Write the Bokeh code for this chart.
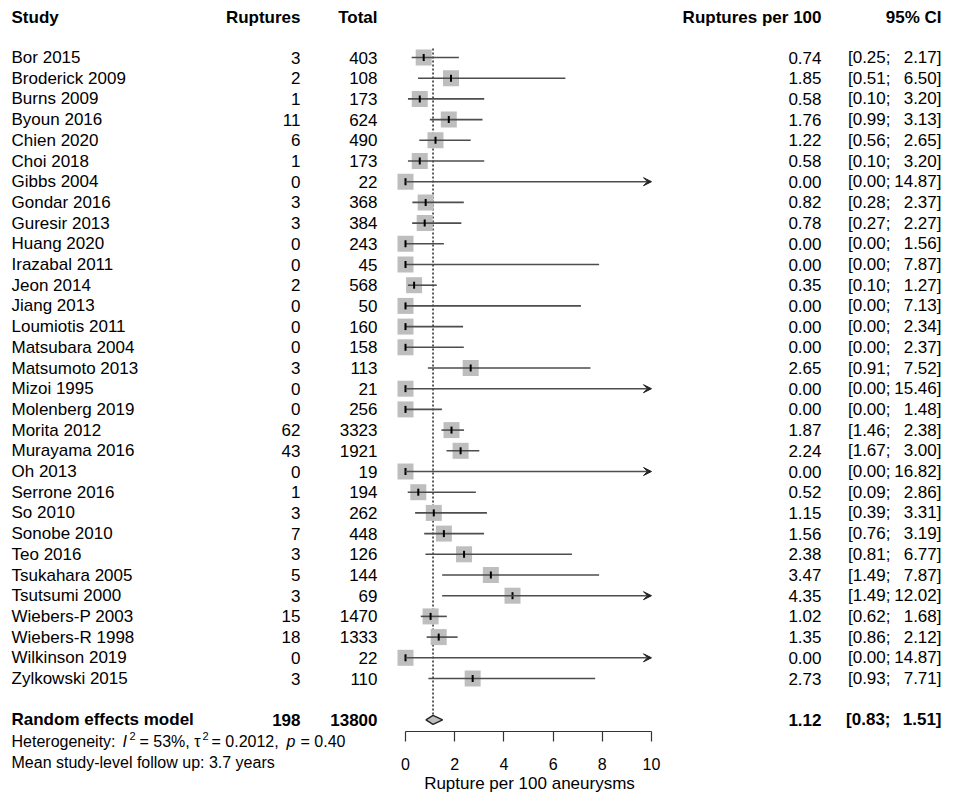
from bokeh.plotting import figure
from bokeh.layouts import column, row
from bokeh.models import ColumnDataSource, Range1d, FixedTicker, Arrow, VeeHead
from bokeh.core.properties import value
from bokeh.embed import file_html
from bokeh.resources import INLINE

# ---------------- data ----------------
studies = ["Bor 2015", "Broderick 2009", "Burns 2009", "Byoun 2016", "Chien 2020",
           "Choi 2018", "Gibbs 2004", "Gondar 2016", "Guresir 2013", "Huang 2020",
           "Irazabal 2011", "Jeon 2014", "Jiang 2013", "Loumiotis 2011", "Matsubara 2004",
           "Matsumoto 2013", "Mizoi 1995", "Molenberg 2019", "Morita 2012", "Murayama 2016",
           "Oh 2013", "Serrone 2016", "So 2010", "Sonobe 2010", "Teo 2016",
           "Tsukahara 2005", "Tsutsumi 2000", "Wiebers-P 2003", "Wiebers-R 1998",
           "Wilkinson 2019", "Zylkowski 2015"]
ruptures = [3, 2, 1, 11, 6, 1, 0, 3, 3, 0, 0, 2, 0, 0, 0, 3, 0, 0, 62, 43,
            0, 1, 3, 7, 3, 5, 3, 15, 18, 0, 3]
totals = [403, 108, 173, 624, 490, 173, 22, 368, 384, 243, 45, 568, 50, 160, 158,
          113, 21, 256, 3323, 1921, 19, 194, 262, 448, 126, 144, 69, 1470, 1333, 22, 110]
rates = [0.74, 1.85, 0.58, 1.76, 1.22, 0.58, 0.00, 0.82, 0.78, 0.00, 0.00, 0.35, 0.00,
         0.00, 0.00, 2.65, 0.00, 0.00, 1.87, 2.24, 0.00, 0.52, 1.15, 1.56, 2.38, 3.47,
         4.35, 1.02, 1.35, 0.00, 2.73]
lower = [0.25, 0.51, 0.10, 0.99, 0.56, 0.10, 0.00, 0.28, 0.27, 0.00, 0.00, 0.10, 0.00,
         0.00, 0.00, 0.91, 0.00, 0.00, 1.46, 1.67, 0.00, 0.09, 0.39, 0.76, 0.81, 1.49,
         1.49, 0.62, 0.86, 0.00, 0.93]
upper = [2.17, 6.50, 3.20, 3.13, 2.65, 3.20, 14.87, 2.37, 2.27, 1.56, 7.87, 1.27, 7.13,
         2.34, 2.37, 7.52, 15.46, 1.48, 2.38, 3.00, 16.82, 2.86, 3.31, 3.19, 6.77, 7.87,
         12.02, 1.68, 2.12, 14.87, 7.71]
re_ruptures = 198
re_total = 13800
re_est, re_lo, re_hi = 1.12, 0.83, 1.51
tick_values = [0, 2, 4, 6, 8, 10]
x_limit = 10
headers = ["Study", "Ruptures", "Total", "Ruptures per 100", "95% CI"]
het_pieces = ["Heterogeneity:", "I", "2", "= 53%, \u03c4", "2", "= 0.2012,", "p", "= 0.40"]
followup_text = "Mean study-level follow up: 3.7 years"
axis_title = "Rupture per 100 aneurysms"

# ---------------- layout helpers (pixel geometry of the page) ----------------
FONT = "Liberation Sans"
X0_PX, PX_PER_UNIT = 405.0, 24.6
ROW0_PX, ROW_PX = 57.0, 20.7


def xd(px):
    return (px - X0_PX) / PX_PER_UNIT


def yd(py):
    return (py - ROW0_PX) / ROW_PX


COL_STUDY, COL_RUPT, COL_TOTAL, COL_RATE, COL_CI_L, COL_CI_R = 11, 300, 377, 821, 890, 941
FS = "17px"
GREY_LINE = "#4d4d4d"
BOX = "#bebebe"
AXIS_Y = 730       # pixel row of the axis line
BOTTOM = 796
SPLIT_X = 395      # left edge of axis strip
AXIS_RIGHT = 663   # right edge of axis strip

n = len(studies)
rows = list(range(n))
re_row = n + 1


def bare(fig):
    fig.outline_line_color = None
    fig.grid.visible = False
    fig.background_fill_color = "white"
    fig.border_fill_color = "white"
    return fig


# ---------- main panel ----------
p = bare(figure(frame_width=950, frame_height=AXIS_Y,
                x_range=Range1d(xd(0), xd(950)), y_range=Range1d(yd(AXIS_Y), yd(0)),
                output_backend="svg", toolbar_location=None,
                x_axis_location=None, y_axis_location=None,
                min_border_left=0, min_border_right=0, min_border_top=0, min_border_bottom=0))

src = ColumnDataSource(dict(
    y=rows,
    study=studies,
    rupt=[str(v) for v in ruptures],
    tot=[str(v) for v in totals],
    est=rates,
    lo=lower,
    rate_txt=["%.2f" % v for v in rates],
    ci_l=["[%.2f;" % v for v in lower],
    ci_r=["%.2f]" % v for v in upper],
))

# dotted line at pooled estimate
p.segment(x0=[re_est], y0=[yd(48)], x1=[re_est], y1=[yd(714)],
          line_color="#333333", line_width=1.6, line_dash="2 2")

# boxes
p.scatter(x="est", y="y", source=src, marker="square", size=16,
          fill_color=BOX, line_color=None)

# CI lines
idx_in = [i for i in range(n) if upper[i] <= x_limit]
idx_out = [i for i in range(n) if upper[i] > x_limit]
src_in = ColumnDataSource(dict(y=[rows[i] for i in idx_in], lo=[lower[i] for i in idx_in],
                               hi=[upper[i] for i in idx_in]))
p.segment(x0="lo", y0="y", x1="hi", y1="y", source=src_in,
          line_color=GREY_LINE, line_width=1.6)
src_out = ColumnDataSource(dict(y=[rows[i] for i in idx_out], lo=[lower[i] for i in idx_out],
                                hi=[x_limit for i in idx_out]))
p.add_layout(Arrow(x_start="lo", y_start="y", x_end="hi", y_end="y", source=src_out,
                   line_color=GREY_LINE, line_width=1.6,
                   end=VeeHead(size=8, fill_color="#222222", line_color="#222222", line_width=1)))

# estimate tick marks
p.scatter(x="est", y="y", source=src, marker="dash", angle=1.5708, size=7,
          line_color="black", line_width=2)

# pooled diamond
dh = 4.5 / ROW_PX
p.patch(x=[re_lo, re_est, re_hi, re_est], y=[re_row, re_row - dh, re_row, re_row + dh],
        fill_color=BOX, line_color="#222222", line_width=1.3)


def col_text(x, field, align):
    p.text(x=xd(x), y="y", text=field, source=src, text_align=align, text_baseline="middle",
           text_font=value(FONT), text_font_size=value(FS), text_color="black")


col_text(COL_STUDY, "study", "left")
col_text(COL_RUPT, "rupt", "right")
col_text(COL_TOTAL, "tot", "right")
col_text(COL_RATE, "rate_txt", "right")
col_text(COL_CI_L, "ci_l", "right")
col_text(COL_CI_R, "ci_r", "right")

hdr_x = [COL_STUDY, COL_RUPT, COL_TOTAL, COL_RATE, COL_CI_R]
hdr_al = ["left", "right", "right", "right", "right"]
p.text(x=[xd(v) for v in hdr_x], y=[yd(17)] * 5, text=headers, text_align=hdr_al,
       text_baseline="middle", text_font=value(FONT), text_font_size=value(FS),
       text_font_style="bold", text_color="black")

re_texts = ["Random effects model", str(re_ruptures), str(re_total), "%.2f" % re_est,
            "[%.2f;" % re_lo, "%.2f]" % re_hi]
re_x = [COL_STUDY, COL_RUPT, COL_TOTAL, COL_RATE, COL_CI_L, COL_CI_R]
re_al = ["left", "right", "right", "right", "right", "right"]
p.text(x=[xd(v) for v in re_x], y=[re_row] * 6, text=re_texts, text_align=re_al,
       text_baseline="middle", text_font=value(FONT), text_font_size=value(FS),
       text_font_style="bold", text_color="black")

# ---------- footer text panel ----------
pb = bare(figure(frame_width=SPLIT_X, frame_height=BOTTOM - AXIS_Y,
                 x_range=Range1d(xd(0), xd(SPLIT_X)), y_range=Range1d(yd(BOTTOM), yd(AXIS_Y)),
                 output_backend="svg", toolbar_location=None,
                 x_axis_location=None, y_axis_location=None,
                 min_border_left=0, min_border_right=0, min_border_top=0, min_border_bottom=0))
het_x = [11, 122, 129, 139, 202, 211, 286, 300]
het_style = ["normal", "italic", "normal", "normal", "normal", "normal", "italic", "normal"]
het_size = ["16px", "16px", "11px", "16px", "11px", "16px", "16px", "16px"]
het_y = [741, 741, 735, 741, 735, 741, 741, 741]
pb.text(x=[xd(v) for v in het_x], y=[yd(v) for v in het_y], text=het_pieces,
        text_align="left", text_baseline="middle", text_font=value(FONT),
        text_font_size=het_size, text_font_style=het_style, text_color="black")
pb.text(x=[xd(11)], y=[yd(762)], text=[followup_text], text_align="left",
        text_baseline="middle", text_font=value(FONT), text_font_size=value("16px"),
        text_color="black")

# ---------- axis strip ----------
pc = bare(figure(frame_width=AXIS_RIGHT - SPLIT_X, frame_height=1,
                 x_range=Range1d(xd(SPLIT_X), xd(AXIS_RIGHT)), y_range=Range1d(0, 1),
                 output_backend="svg", toolbar_location=None, y_axis_location=None,
                 min_border_left=0, min_border_right=0, min_border_top=0,
                 min_border_bottom=BOTTOM - AXIS_Y - 1))
ax = pc.xaxis[0]
ax.bounds = (tick_values[0], tick_values[-1])
ax.ticker = FixedTicker(ticks=tick_values)
ax.major_tick_out = 10
ax.major_tick_in = 0
ax.minor_tick_out = 0
ax.minor_tick_in = 0
ax.axis_line_color = "#333333"
ax.major_tick_line_color = "#333333"
ax.axis_line_width = 1.2
ax.major_tick_line_width = 1.2
ax.major_label_text_font = FONT
ax.major_label_text_font_size = "16px"
ax.major_label_text_color = "black"
ax.major_label_standoff = 16
ax.axis_label = axis_title
ax.axis_label_text_font = FONT
ax.axis_label_text_font_size = "17px"
ax.axis_label_text_font_style = "normal"
ax.axis_label_text_color = "black"
ax.axis_label_standoff = 1

layout = column(p, row(pb, pc))
open("out.html", "w").write(file_html(layout, INLINE))
